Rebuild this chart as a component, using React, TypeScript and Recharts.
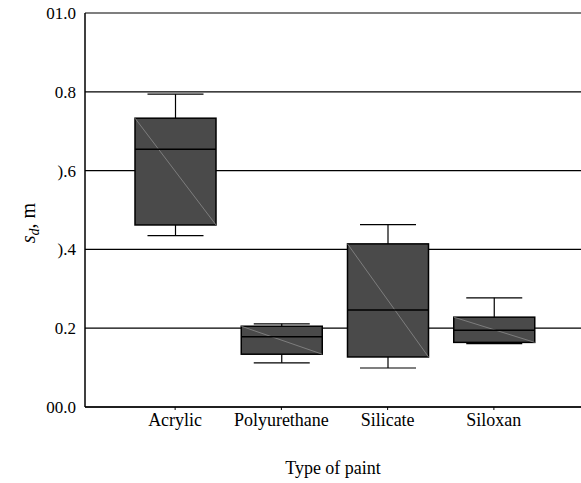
import { ComposedChart, Bar, XAxis, YAxis, CartesianGrid, Label } from "recharts";

const paints = ["Acrylic", "Polyurethane", "Silicate", "Siloxan"];
const whiskerLow = [0.435, 0.112, 0.099, 0.161];
const q1 = [0.462, 0.134, 0.127, 0.164];
const median = [0.654, 0.178, 0.246, 0.195];
const q3 = [0.733, 0.205, 0.414, 0.228];
const whiskerHigh = [0.794, 0.211, 0.463, 0.277];

const yTicks = [0, 0.2, 0.4, 0.6, 0.8, 1.0];
const yTickLabels = ["00.0", "0.2", ").4", ").6", "0.8", "01.0"];

const data = paints.map((name, i) => ({
  name,
  low: whiskerLow[i],
  q1: q1[i],
  median: median[i],
  q3: q3[i],
  high: whiskerHigh[i],
}));

const font = "Liberation Serif";

function BoxShape(props: any) {
  const { x, y, width, height, payload } = props;
  const unit = height / (payload.q3 - payload.q1);
  const toY = (v: number) => y + (payload.q3 - v) * unit;
  const cx = x + width / 2;
  const cap = 28;
  const yHigh = toY(payload.high);
  const yLow = toY(payload.low);
  const yMed = toY(payload.median);
  return (
    <g>
      <line x1={cx} x2={cx} y1={yHigh} y2={y} stroke="#000" strokeWidth={1.2} />
      <line x1={cx - cap} x2={cx + cap} y1={yHigh} y2={yHigh} stroke="#000" strokeWidth={1.2} />
      <line x1={cx} x2={cx} y1={y + height} y2={yLow} stroke="#000" strokeWidth={1.2} />
      <line x1={cx - cap} x2={cx + cap} y1={yLow} y2={yLow} stroke="#000" strokeWidth={1.2} />
      <rect x={x} y={y} width={width} height={height} fill="#4a4a4a" stroke="#000" strokeWidth={1.5} />
      <line x1={x} y1={y} x2={x + width} y2={y + height} stroke="#8a8a8a" strokeWidth={0.8} />
      <line x1={x} x2={x + width} y1={yMed} y2={yMed} stroke="#000" strokeWidth={1.5} />
    </g>
  );
}

function XTick(props: any) {
  const { x, y, payload } = props;
  return (
    <text x={x} y={y + 12} textAnchor="middle" fontFamily={font} fontSize={18} fill="#000">
      {payload.value}
    </text>
  );
}

function YTick(props: any) {
  const { x, y, payload } = props;
  return (
    <text x={x - 1} y={y + 6} textAnchor="end" fontFamily={font} fontSize={17} fill="#000">
      {yTickLabels[yTicks.indexOf(payload.value)]}
    </text>
  );
}

function XLabel(props: any) {
  const { viewBox } = props;
  return (
    <text
      x={viewBox.x + viewBox.width / 2}
      y={viewBox.y + 67}
      textAnchor="middle"
      fontFamily={font}
      fontSize={18}
      fill="#000"
    >
      Type of paint
    </text>
  );
}

function YLabel(props: any) {
  const { viewBox } = props;
  const cy = viewBox.y + viewBox.height / 2 + 13;
  return (
    <text
      x={0}
      y={0}
      transform={`translate(35, ${cy}) rotate(-90)`}
      textAnchor="middle"
      fontFamily={font}
      fontSize={20}
      fill="#000"
    >
      <tspan fontStyle="italic">s</tspan>
      <tspan fontStyle="italic" fontSize={14} dy={4}>d</tspan>
      <tspan dy={-4}>, m</tspan>
    </text>
  );
}

export default function App() {
  return (
    <div
      style={{
        position: "absolute",
        left: 0,
        top: 0,
        width: 581,
        height: 483,
        background: "#fff",
        fontFamily: font,
      }}
    >
      <ComposedChart
        width={581}
        height={483}
        data={data}
        margin={{ top: 13, right: 0, left: 0, bottom: 36 }}
      >
        <CartesianGrid horizontal vertical={false} stroke="#000" strokeWidth={1.2} />
        <XAxis
          dataKey="name"
          height={40}
          padding={{ left: 37, right: 34 }}
          axisLine={{ stroke: "#000", strokeWidth: 1.5 }}
          tickLine={{ stroke: "#000" }}
          tickSize={3}
          tickMargin={4}
          tick={<XTick />}
        >
          <Label content={<XLabel />} />
        </XAxis>
        <YAxis
          width={85}
          domain={[0, 1]}
          ticks={yTicks}
          axisLine={{ stroke: "#000", strokeWidth: 1.5 }}
          tickLine={false}
          tick={<YTick />}
        >
          <Label content={<YLabel />} />
        </YAxis>
        <Bar
          dataKey={(d: any) => [d.q1, d.q3]}
          barSize={81}
          shape={<BoxShape />}
          isAnimationActive={false}
        />
      </ComposedChart>
    </div>
  );
}
